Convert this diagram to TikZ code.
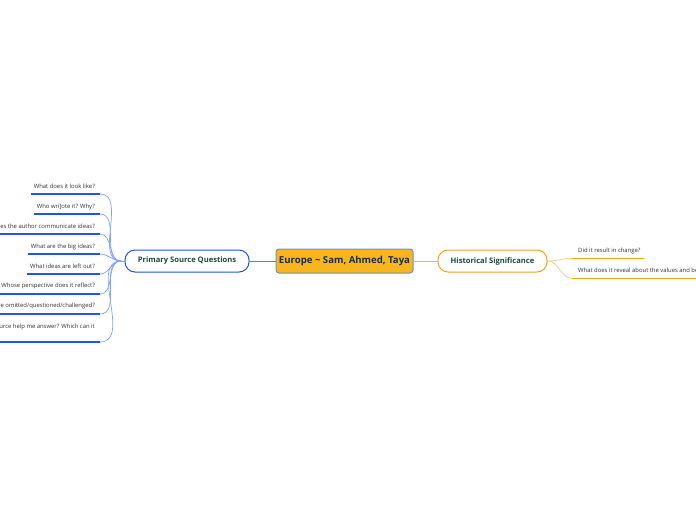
\documentclass[tikz,border=0pt]{standalone}
\usepackage{fontspec}
\setmainfont{Open Sans}
\definecolor{cfill}{HTML}{F9B51E}
\definecolor{cborder}{HTML}{5A9BC8}
\definecolor{ctext}{HTML}{1C2B4A}
\definecolor{bmain}{HTML}{1F55E8}
\definecolor{blink}{HTML}{4D7CFF}
\definecolor{blight}{HTML}{7EA4FF}
\definecolor{omain}{HTML}{F7A21B}
\definecolor{olink}{HTML}{F9B04A}
\definecolor{olight}{HTML}{F9C977}
\definecolor{gtext}{HTML}{1D4A3C}
\definecolor{leaftext}{HTML}{333333}
\tikzset{
  central/.style={draw=cborder, line width=1pt, fill=cfill, rounded corners=3pt,
    minimum width=137pt, minimum height=24pt, inner sep=0pt, text=ctext,
    font=\fontsize{9.6}{11}\selectfont\bfseries},
  topicb/.style={draw=bmain, line width=1pt, fill=white, rounded corners=10pt,
    minimum width=124pt, minimum height=22pt, inner sep=0pt, text=gtext,
    font=\fontsize{7.6}{9}\selectfont\bfseries},
  topico/.style={topicb, draw=omain, minimum width=109pt},
  leafl/.style={anchor=east, inner sep=3pt, text=leaftext, font=\fontsize{5.9}{7}\selectfont},
  leafr/.style={anchor=west, inner sep=3pt, text=leaftext, font=\fontsize{5.9}{7}\selectfont},
  ulb/.style={draw=bmain, line width=1.6pt},
  ulo/.style={draw=omain, line width=1.6pt},
  conb/.style={draw=blight, line width=0.7pt},
  cono/.style={draw=olight, line width=0.7pt},
  linkb/.style={draw=blink, line width=0.8pt},
  linko/.style={draw=olink, line width=0.8pt},
}
\begin{document}
\begin{tikzpicture}[x=1pt,y=-1pt]
\useasboundingbox (0,0) rectangle (696,520);
% main nodes
\node[central] (c) at (344.5,261) {Europe \textasciitilde{} Sam, Ahmed, Taya};
\node[topicb] (p) at (187,261) {Primary Source Questions};
\node[topico] (h) at (492.5,261) {Historical Significance};
\draw[linkb] (c.west) -- (p.east);
\draw[linko] (c.east) -- (h.west);
% left hub
\coordinate (hubl) at (121,261);
\draw[conb] (p.west) -- (hubl);
% left leaves
\foreach \i/\ty/\uy/\txt in {
  1/186.7/194/{What does it look like?},
  2/206.7/214/{Who wri]ote it? Why?},
  3/226.7/234/{How does the author communicate ideas?},
  4/246.7/254/{What are the big ideas?},
  5/266.7/274/{What ideas are left out?},
  6/286.4/294/{Whose perspective does it reflect?},
  7/306.4/314/{What ideas are omitted/questioned/challenged?},
  8/326.7/342/{What questions can this source help me answer? Which can it}}{
  \node[leafl] (l\i) at (98,\ty) {\txt};
  \coordinate (le\i) at (100,\uy);
  \draw[ulb] (l\i.west |- le\i) -- (le\i);
  \draw[conb] (hubl) to[out=180,in=0] (le\i);
}
% right leaves
\coordinate (hubr) at (h.east);
\foreach \i/\ty/\uy/\txt in {
  1/250.7/258.3/{Did it result in change?},
  2/270.7/278.3/{What does it reveal about the values and beliefs of the time?}}{
  \node[leafr] (r\i) at (575,\ty) {\txt};
  \coordinate (re\i) at (572,\uy);
  \draw[ulo] (re\i) -- (r\i.east |- re\i);
  \draw[cono] (hubr) to[out=0,in=180] (re\i);
}
\end{tikzpicture}
\end{document}
